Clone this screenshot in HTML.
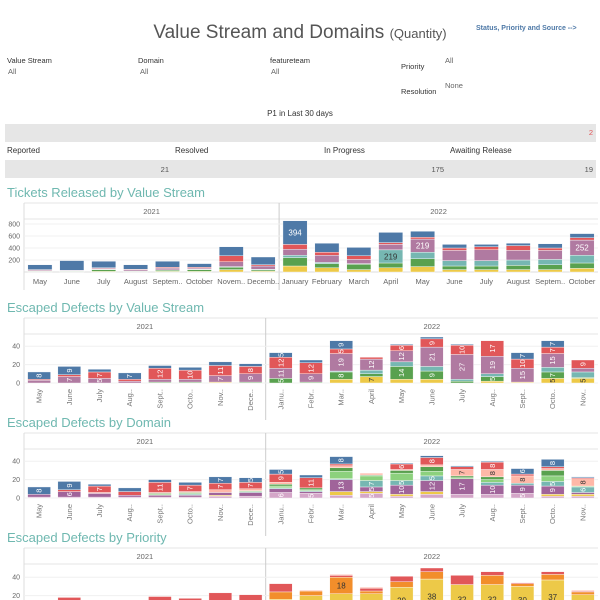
<!DOCTYPE html>
<html><head><meta charset="utf-8"><style>
html,body{margin:0;padding:0;background:#fff;width:600px;height:600px;overflow:hidden}
svg{display:block;font-family:"Liberation Sans",sans-serif}
</style></head><body>
<svg id="s" width="600" height="600" viewBox="0 0 600 600">
<g>
<text x="300" y="38" text-anchor="middle" font-size="19" fill="#555">Value Stream and Domains <tspan font-size="13">(Quantity)</tspan></text>
<text x="476" y="30" font-size="7" font-weight="bold" fill="#4e79a7">Status, Priority and Source --&gt;</text>
<g font-size="7.5" fill="#333">
<text x="7" y="63">Value Stream</text>
<text x="8" y="74" fill="#666">All</text>
<text x="138" y="63">Domain</text>
<text x="140" y="74" fill="#666">All</text>
<text x="270" y="63">featureteam</text>
<text x="271" y="74" fill="#666">All</text>
<text x="401" y="69">Priority</text>
<text x="445" y="63" fill="#666">All</text>
<text x="401" y="94">Resolution</text>
<text x="445" y="88" fill="#666">None</text>
<text x="300" y="116" text-anchor="middle" font-size="8">P1 in Last 30 days</text>
</g>
<rect x="5" y="124" width="591" height="18" fill="#e6e6e6"/>
<text x="593" y="135" text-anchor="end" font-size="7.5" fill="#e15759">2</text>
<g font-size="8" fill="#333">
<text x="7" y="153">Reported</text>
<text x="175" y="153">Resolved</text>
<text x="324" y="153">In Progress</text>
<text x="450" y="153">Awaiting Release</text>
</g>
<rect x="5" y="160" width="591" height="18" fill="#e6e6e6"/>
<g font-size="7.5" fill="#555" text-anchor="end">
<text x="169" y="172">21</text>
<text x="444" y="172">175</text>
<text x="593" y="172">19</text>
</g>
</g>
</svg>
<script>
const months1 = ["May","June","July","August","Septem..","October","Novem..","Decemb..","January","February","March","April","May","June","July","August","Septem..","October"];
const years1 = [8,10];
const t1Yellow=[5,5,10,5,10,10,40,15,100,70,40,70,90,40,40,40,40,60];
const t1Green=[10,10,30,10,20,30,40,20,140,70,90,80,130,60,60,70,80,90];
const t1Teal=[0,0,5,0,5,5,10,10,40,20,10,219,110,90,90,90,90,130];
const t1Purple=[15,10,15,20,30,20,80,55,100,120,70,91,219,170,180,160,150,252];
const t1Red=[10,5,10,10,15,15,100,20,80,50,60,30,30,40,50,80,40,40];
const t1Blue=[80,160,110,75,100,60,150,130,394,150,140,170,100,60,40,40,70,68];
const t1Ticks=[200,400,600,800];

const months2 = ["May","June","July","Aug..","Sept..","Octo..","Nov..","Dece..","Janu..","Febr..","Mar..","April","May","June","July","Aug..","Sept..","Octo..","Nov.."];
const years2=[8,11];
const vYellow=[0,0,0,0,0,0,1,0,0,0,4,7,4,4,0,2,1,5,5];
const vGreen=[0,0,0,0,1,1,0,1,5,1,8,3,14,9,2,5,0,7,1];
const vTeal=[0,0,0,0,0,0,0,0,0,0,1,4,5,5,2,3,0,5,6];
const vPurple=[3,7,5,2,3,3,7,9,11,9,19,12,12,21,27,19,15,15,4];
const vRed=[1,2,7,2,12,10,11,8,12,12,5,2,6,9,10,17,10,7,9];
const vBlue=[8,9,3,7,3,3,4,3,5,3,9,0,1,2,1,0,7,7,0];
const dTicks=[0,20,40];

const dMauve=[1,1,1,1,1,1,2,2,6,5,3,5,2,4,4,4,5,2,2];
const dYellow=[0,0,0,0,0,0,1,0,0,0,4,2,2,3,0,0,0,2,2];
const dPurple=[3,6,4,2,2,2,3,4,4,2,13,5,10,12,17,10,9,9,2];
const dTeal=[0,0,0,0,0,1,0,1,1,1,1,7,5,5,0,3,2,5,6];
const dLGreen=[0,0,0,0,1,1,0,1,2,1,8,5,8,5,1,3,0,6,1];
const dGreen=[0,0,0,0,1,1,0,0,2,2,4,1,3,5,2,3,0,6,0];
const dSalmon=[0,0,1,0,1,1,3,2,2,0,2,2,1,2,7,8,8,2,8];
const dRed=[0,2,7,4,11,7,7,7,9,11,2,0,6,8,3,8,2,2,1];
const dBlue=[8,9,2,4,3,3,7,5,5,3,8,0,1,2,1,1,6,8,1];

const pYellow=[6,4,6,4,4,4,6,6,16,20,22,22,29,38,32,32,30,37,21];
const pOrange=[2,2,2,2,2,2,4,4,8,5,18,3,6,8,0,10,3,6,3];
const pRed=[4,12,7,5,13,11,13,11,9,0,2,3,6,4,10,4,1,3,1];
const pPink=[0,0,0,0,0,0,0,0,0,1,1,1,0,0,0,0,0,0,1];

const NS="http://www.w3.org/2000/svg";
const svg=document.getElementById('s');
function mk(tag,attrs,parent,txt){const e=document.createElementNS(NS,tag);for(const k in attrs)e.setAttribute(k,attrs[k]);if(txt!==undefined)e.textContent=txt;parent.appendChild(e);return e;}

function drawChart(o){
  const g=mk('g',{},svg);
  
  
  const t=mk('text',{x:7,y:o.titleY,'font-size':13,fill:'#6fb8b0'},g,o.title);
  
  
  const L=24,R=598,n=o.cats.length,w=(R-L)/n;
  const xc=i=>L+w*(i+0.5);
  const y=v=>o.zero-v*o.scale;
  const divX=L+w*o.years[0];
  // header
  mk('line',{x1:L,x2:R,y1:o.hTop,y2:o.hTop,stroke:'#e4e4e4'},g);
  mk('line',{x1:L,x2:R,y1:o.hTop+16,y2:o.hTop+16,stroke:'#e4e4e4'},g);
  mk('line',{x1:L,x2:L,y1:o.hTop,y2:o.axisEnd,stroke:'#ddd'},g);
  mk('line',{x1:divX,x2:divX,y1:o.hTop,y2:o.axisEnd,stroke:'#ccc'},g);
  const y1=mk('text',{x:(L+divX)/2,y:o.hTop+11,'font-size':7.5,fill:'#666','text-anchor':'middle'},g,'2021');
  
  
  const y2=mk('text',{x:(divX+R)/2,y:o.hTop+11,'font-size':7.5,fill:'#666','text-anchor':'middle'},g,'2022');
  
  
  // ticks
  o.ticks.forEach(tv=>{
    mk('line',{x1:L,x2:R,y1:y(tv),y2:y(tv),stroke:'#f0f0f0'},g);
    const tt=mk('text',{x:20,y:y(tv)+2.5,'font-size':7,fill:'#666','text-anchor':'end'},g,String(tv));
    
    
  });
  if(o.zeroLine)mk('line',{x1:L,x2:R,y1:o.zero,y2:o.zero,stroke:'#ddd'},g);
  const bw=w*0.76;
  for(let i=0;i<n;i++){
    let acc=0;
    o.series.forEach(s=>{
      const v=s.data[i];if(!v)return;
      const r=mk('rect',{x:xc(i)-bw/2,y:y(acc+v),width:bw,height:v*o.scale,fill:s.color,stroke:'#fff','stroke-width':0.4},g);
      
      
      if(s.label && v>=o.labelMin){
        const cy=y(acc+v/2);
        let lt;
        if(o.rotLabels) lt=mk('text',{x:xc(i),y:cy,'font-size':7.5,fill:s.lc||'#fff','text-anchor':'middle','dominant-baseline':'central',transform:`rotate(-90 ${xc(i)} ${cy})`},g,String(v));
        else lt=mk('text',{x:xc(i),y:cy+3,'font-size':8,fill:s.lc||'#fff','text-anchor':'middle'},g,String(v));
        
        
      }
      acc+=v;
    });
    if(o.catY){
      let ct;
      if(o.rotCats) ct=mk('text',{x:xc(i)+2.5,y:o.catY,'font-size':7.5,fill:'#777','text-anchor':'end',transform:`rotate(-90 ${xc(i)+2.5} ${o.catY})`},g,o.cats[i]);
      else ct=mk('text',{x:xc(i),y:o.catY,'font-size':7.5,fill:'#666','text-anchor':'middle'},g,o.cats[i]);
      
      
    }
  }
}
drawChart({name:'tickets-released-chart',title:'Tickets Released by Value Stream',titleY:197,hTop:203,axisEnd:290,zero:272,scale:0.06,ticks:t1Ticks,cats:months1,years:years1,catY:284,rotCats:false,zeroLine:true,labelMin:215,rotLabels:false,
 series:[{data:t1Yellow,color:'#edc948'},{data:t1Green,color:'#59a14f'},{data:t1Teal,color:'#76b7b2',label:1,lc:'#333'},{data:t1Purple,color:'#b07aa1',label:1},{data:t1Red,color:'#e15759'},{data:t1Blue,color:'#4e79a7',label:1}]});
drawChart({name:'escaped-by-value-stream-chart',title:'Escaped Defects by Value Stream',titleY:312,hTop:318,axisEnd:420,zero:383,scale:0.92,ticks:dTicks,cats:months2,years:years2,catY:389,rotCats:true,zeroLine:false,labelMin:5,rotLabels:true,
 series:[{data:vYellow,color:'#edc948',label:1,lc:'#333'},{data:vGreen,color:'#59a14f',label:1},{data:vTeal,color:'#76b7b2'},{data:vPurple,color:'#b07aa1',label:1},{data:vRed,color:'#e15759',label:1},{data:vBlue,color:'#4e79a7',label:1}]});
drawChart({name:'escaped-by-domain-chart',title:'Escaped Defects by Domain',titleY:427,hTop:433,axisEnd:536,zero:498,scale:0.92,ticks:dTicks,cats:months2,years:years2,catY:504,rotCats:true,zeroLine:false,labelMin:5,rotLabels:true,
 series:[{data:dMauve,color:'#d4a6c8',label:1},{data:dYellow,color:'#edc948'},{data:dPurple,color:'#a0649a',label:1},{data:dTeal,color:'#76b7b2',label:1},{data:dLGreen,color:'#8cd17d'},{data:dGreen,color:'#59a14f'},{data:dSalmon,color:'#ffb8a8',label:1,lc:'#333'},{data:dRed,color:'#e15759',label:1},{data:dBlue,color:'#4e79a7',label:1}]});
drawChart({name:'escaped-by-priority-chart',title:'Escaped Defects by Priority',titleY:542,hTop:548,axisEnd:600,zero:614,scale:0.92,ticks:[20,40],cats:months2,years:years2,catY:null,zeroLine:false,labelMin:18,rotLabels:false,
 series:[{data:pYellow,color:'#edc948',label:1,lc:'#333'},{data:pOrange,color:'#f28e2b',label:1,lc:'#333'},{data:pRed,color:'#e15759'},{data:pPink,color:'#ffb8a8'}]});
</script>
</body></html>
